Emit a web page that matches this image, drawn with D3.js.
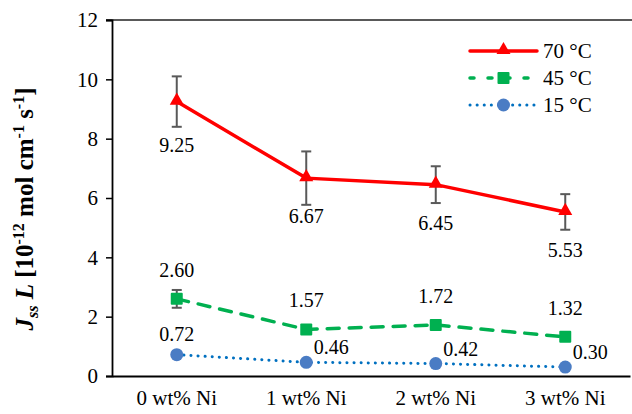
<!DOCTYPE html>
<html>
<head>
<meta charset="utf-8">
<script src="https://cdn.jsdelivr.net/npm/d3@7"></script>
</head>
<body style="margin:0; background:#fff">
<script>
// data
const categories = ["0 wt% Ni", "1 wt% Ni", "2 wt% Ni", "3 wt% Ni"];
const yTicks = [0, 2, 4, 6, 8, 10, 12];

const series70 = [9.25, 6.67, 6.45, 5.53];
const err70 = [0.85, 0.9, 0.62, 0.6];
const series45 = [2.60, 1.57, 1.72, 1.32];
const err45 = [0.3, 0, 0, 0];
const series15 = [0.72, 0.46, 0.42, 0.30];

const FONT = "Liberation Serif";
const width = 632, height = 414;
const margin = {top: 20, right: 2, bottom: 38, left: 112};

const svg = d3.select("body").append("svg")
    .attr("width", width)
    .attr("height", height);

const x = d3.scaleBand()
    .domain(categories)
    .range([margin.left, 630]);

const y = d3.scaleLinear()
    .domain([0, 12])
    .range([height - margin.bottom, margin.top]);

// top border line
svg.append("line")
    .attr("x1", margin.left - 6).attr("x2", width)
    .attr("y1", y(12)).attr("y2", y(12))
    .attr("stroke", "#222").attr("stroke-width", 1.5);

// y axis
const yAxis = svg.append("g")
    .attr("transform", `translate(${margin.left},0)`)
    .call(d3.axisLeft(y).tickValues(yTicks).tickSize(6).tickPadding(8));
yAxis.select(".domain").attr("stroke", "#000").attr("stroke-width", 1.8);
yAxis.selectAll(".tick line").attr("stroke", "#000").attr("stroke-width", 1.5);
yAxis.selectAll("text").attr("font-size", 21);

// x axis
const xAxis = svg.append("g")
    .attr("transform", `translate(0,${y(0)})`)
    .call(d3.axisBottom(x).tickSize(0).tickPadding(14).tickSizeOuter(0));
xAxis.select(".domain").attr("stroke", "#000").attr("stroke-width", 1.8);
xAxis.selectAll("text").attr("font-size", 21);

// y title
const title = svg.append("text")
    .attr("transform", `translate(33,${(y(0) + y(12)) / 2 + 11}) rotate(-90)`)
    .attr("text-anchor", "middle")
    .attr("font-size", 25)
    .attr("font-weight", "bold");
title.append("tspan").attr("font-style", "italic").text("J");
title.append("tspan").attr("font-style", "italic").attr("font-size", 16).attr("dy", 5).text("ss");
title.append("tspan").attr("dy", -5).text(" ");
title.append("tspan").attr("font-style", "italic").text("L");
title.append("tspan").text(" [10");
title.append("tspan").attr("font-size", 16).attr("dy", -9).text("-12");
title.append("tspan").attr("dy", 9).text(" mol cm");
title.append("tspan").attr("font-size", 16).attr("dy", -9).text("-1");
title.append("tspan").attr("dy", 9).text(" s");
title.append("tspan").attr("font-size", 16).attr("dy", -9).text("-1");
title.append("tspan").attr("dy", 9).text("]");

const cx = (d, i) => x(categories[i]) + x.bandwidth() / 2;
const line = vals => d3.line().x((d, i) => cx(d, i)).y(d => y(d))(vals);

const errColor = "#595959";
function errorBars(vals, errs) {
  vals.forEach((v, i) => {
    if (!errs[i]) return;
    const g = svg.append("g").attr("stroke", errColor).attr("stroke-width", 2);
    const px = cx(v, i);
    g.append("line").attr("x1", px).attr("x2", px).attr("y1", y(v + errs[i])).attr("y2", y(v - errs[i]));
    g.append("line").attr("x1", px - 5).attr("x2", px + 5).attr("y1", y(v + errs[i])).attr("y2", y(v + errs[i]));
    g.append("line").attr("x1", px - 5).attr("x2", px + 5).attr("y1", y(v - errs[i])).attr("y2", y(v - errs[i]));
  });
}

errorBars(series70, err70);
errorBars(series45, err45);

// 15 °C
svg.append("path").attr("d", line(series15))
    .attr("fill", "none").attr("stroke", "#0070C0").attr("stroke-width", 3)
    .attr("stroke-linecap", "round").attr("stroke-dasharray", "0.1 7");
// 45 °C
svg.append("path").attr("d", line(series45))
    .attr("fill", "none").attr("stroke", "#00B050").attr("stroke-width", 3.5)
    .attr("stroke-linecap", "round").attr("stroke-dasharray", "12 10");
// 70 °C
svg.append("path").attr("d", line(series70))
    .attr("fill", "none").attr("stroke", "#FF0000").attr("stroke-width", 3.5);

const tri = d3.symbol().type(d3.symbolTriangle).size(85);
svg.selectAll(".m70").data(series70).enter().append("path")
    .attr("d", tri)
    .attr("transform", (d, i) => `translate(${cx(d, i)},${y(d) - 1})`)
    .attr("fill", "#FF0000");

svg.selectAll(".m45").data(series45).enter().append("rect")
    .attr("x", (d, i) => cx(d, i) - 6).attr("y", d => y(d) - 6)
    .attr("width", 12).attr("height", 12).attr("rx", 1)
    .attr("fill", "#00B050");

svg.selectAll(".m15").data(series15).enter().append("circle")
    .attr("cx", (d, i) => cx(d, i)).attr("cy", d => y(d)).attr("r", 6.5)
    .attr("fill", "#4A7CC4");

// data labels
const fmt = d3.format(".2f");
svg.selectAll(".l70").data(series70).enter().append("text")
    .attr("x", (d, i) => cx(d, i)).attr("y", (d, i) => y(d) + (i === 0 ? 50 : 45))
    .attr("text-anchor", "middle").attr("font-size", 20).text(fmt);

svg.selectAll(".l45").data(series45).enter().append("text")
    .attr("x", (d, i) => cx(d, i)).attr("y", d => y(d) - 22)
    .attr("text-anchor", "middle").attr("font-size", 20).text(fmt);

svg.selectAll(".l15").data(series15).enter().append("text")
    .attr("x", (d, i) => cx(d, i) + (i === 0 ? 0 : 25)).attr("y", (d, i) => y(d) - (i === 0 ? 14 : 8))
    .attr("text-anchor", "middle").attr("font-size", 20).text(fmt);

// legend
const legend = [
  {name: "70 °C", color: "#FF0000", marker: "tri"},
  {name: "45 °C", color: "#00B050", marker: "sq"},
  {name: "15 °C", color: "#0070C0", marker: "circ"}
];
const lg = svg.append("g").attr("transform", "translate(470,51)");
legend.forEach((l, i) => {
  const g = lg.append("g").attr("transform", `translate(0,${i * 27})`);
  g.append("line").attr("x1", 0).attr("x2", 67).attr("y1", 0).attr("y2", 0)
      .attr("stroke", l.color).attr("stroke-width", l.marker === "circ" ? 3 : 3.5)
      .attr("stroke-linecap", "round")
      .attr("stroke-dasharray", l.marker === "sq" ? "4 14" : l.marker === "circ" ? "0.1 7" : null);
  if (l.marker === "tri") g.append("path").attr("d", tri).attr("transform", "translate(33.5,-1)").attr("fill", l.color);
  if (l.marker === "sq") g.append("rect").attr("x", 27.5).attr("y", -6).attr("width", 12).attr("height", 12).attr("rx", 1).attr("fill", l.color);
  if (l.marker === "circ") g.append("circle").attr("cx", 33.5).attr("cy", 0).attr("r", 6.5).attr("fill", "#4A7CC4");
  g.append("text").attr("x", 73).attr("y", 7).attr("font-size", 21).text(l.name);
});

// serif font on every text element
svg.selectAll("g").attr("font-family", null);
svg.selectAll("text").attr("font-family", FONT).attr("fill", "#000");
</script>
</body>
</html>
